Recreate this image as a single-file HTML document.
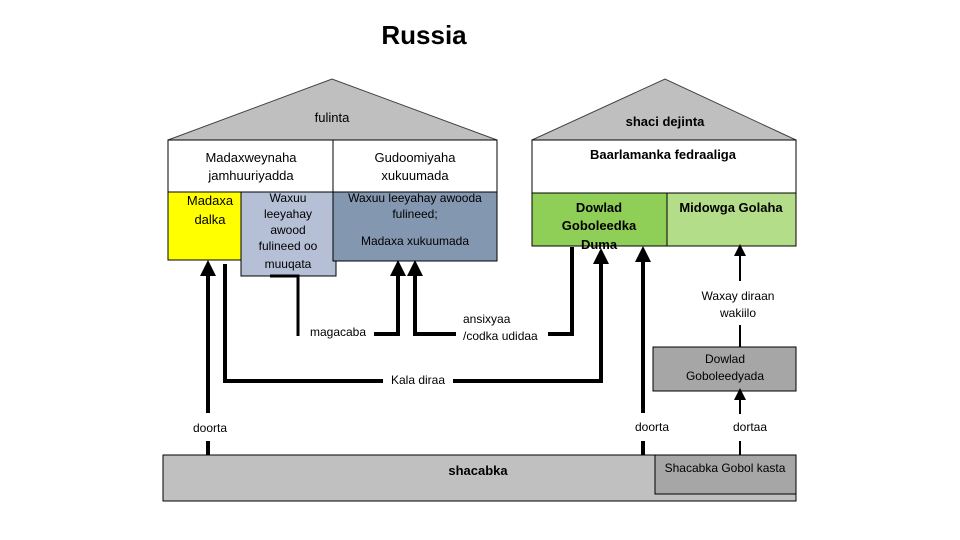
<!DOCTYPE html>
<html><head><meta charset="utf-8"><style>
html,body{margin:0;padding:0;background:#fff;}
svg{display:block;}
text{font-family:"Liberation Sans",sans-serif;fill:#000;}
</style></head><body>
<svg width="960" height="540" viewBox="0 0 960 540" xmlns="http://www.w3.org/2000/svg">
<defs>
<marker id="ah" markerWidth="4" markerHeight="4" refX="2" refY="2" orient="auto" markerUnits="strokeWidth">
<path d="M0,0 L4,2 L0,4 z" fill="#000"/></marker>
<marker id="ahs" markerWidth="6" markerHeight="6" refX="3" refY="3" orient="auto" markerUnits="strokeWidth">
<path d="M0,0 L6,3 L0,6 z" fill="#000"/></marker>
</defs>
<text x="424" y="44" font-size="26" font-weight="bold" text-anchor="middle">Russia</text>

<!-- left roof -->
<polygon points="168,140 332,79 497,140" fill="#bfbfbf" stroke="#404040" stroke-width="1"/>
<text x="332" y="122" font-size="13" text-anchor="middle">fulinta</text>
<!-- right roof -->
<polygon points="532,140 665,79 796,140" fill="#bfbfbf" stroke="#404040" stroke-width="1"/>
<text x="665" y="126" font-size="13" font-weight="bold" text-anchor="middle">shaci dejinta</text>

<!-- left box -->
<rect x="168" y="140" width="329" height="52" fill="#fff" stroke="#000"/>
<line x1="333" y1="140" x2="333" y2="192" stroke="#000"/>
<text x="251" y="162" font-size="13" text-anchor="middle">Madaxweynaha</text>
<text x="251" y="180" font-size="13" text-anchor="middle">jamhuuriyadda</text>
<text x="415" y="162" font-size="13" text-anchor="middle">Gudoomiyaha</text>
<text x="415" y="180" font-size="13" text-anchor="middle">xukuumada</text>
<rect x="168" y="192" width="73" height="68" fill="#ffff00" stroke="#000"/>
<text x="210" y="205" font-size="13" text-anchor="middle">Madaxa</text>
<text x="210" y="224" font-size="13" text-anchor="middle">dalka</text>
<rect x="241" y="192" width="95" height="84" fill="#b5c0d6" stroke="#000"/>
<g font-size="12" text-anchor="middle">
<text x="288" y="202">Waxuu</text>
<text x="288" y="218">leeyahay</text>
<text x="288" y="234">awood</text>
<text x="288" y="250">fulineed oo</text>
<text x="288" y="268">muuqata</text>
</g>
<rect x="333" y="192" width="164" height="69" fill="#8497b0" stroke="#000"/>
<text x="415" y="202" font-size="12" text-anchor="middle">Waxuu leeyahay awooda</text>
<text x="415" y="218" font-size="12" text-anchor="middle">fulineed;</text>
<text x="415" y="245" font-size="12" text-anchor="middle">Madaxa xukuumada</text>

<!-- right box -->
<rect x="532" y="140" width="264" height="53" fill="#fff" stroke="#000"/>
<text x="663" y="159" font-size="13" font-weight="bold" text-anchor="middle">Baarlamanka fedraaliga</text>
<rect x="532" y="193" width="135" height="53" fill="#8fcf58" stroke="#000"/>
<text x="599" y="212" font-size="13" font-weight="bold" text-anchor="middle">Dowlad</text>
<text x="599" y="230" font-size="13" font-weight="bold" text-anchor="middle">Goboleedka</text>
<text x="599" y="249" font-size="13" font-weight="bold" text-anchor="middle">Duma</text>
<rect x="667" y="193" width="129" height="53" fill="#b3dd88" stroke="#000"/>
<text x="731" y="212" font-size="13" font-weight="bold" text-anchor="middle">Midowga Golaha</text>

<!-- bottom -->
<rect x="163" y="455" width="633" height="46" fill="#c0c0c0" stroke="#000"/>
<rect x="655" y="455" width="141" height="39" fill="#a6a6a6" stroke="#000"/>
<text x="478" y="475" font-size="13" font-weight="bold" text-anchor="middle">shacabka</text>
<text x="725" y="472" font-size="12" text-anchor="middle">Shacabka Gobol kasta</text>

<rect x="653" y="347" width="143" height="44" fill="#a6a6a6" stroke="#000"/>
<text x="725" y="363" font-size="12" text-anchor="middle">Dowlad</text>
<text x="725" y="380" font-size="12" text-anchor="middle">Goboleedyada</text>

<g stroke="#000" stroke-width="4" fill="none">
<line x1="208" y1="455" x2="208" y2="441"/>
<line x1="208" y1="413" x2="208" y2="268" marker-end="url(#ah)"/>
<polyline points="225,264 225,381 383,381"/>
<polyline points="453,381 601,381 601,256" marker-end="url(#ah)"/>
<polyline points="270,276 298,276 298,336" stroke-width="3"/>
<polyline points="374,334 398,334 398,268" marker-end="url(#ah)"/>
<polyline points="456,334 415,334 415,268" marker-end="url(#ah)"/>
<polyline points="548,334 572,334 572,247"/>
<line x1="643" y1="455" x2="643" y2="441"/>
<line x1="643" y1="413" x2="643" y2="254" marker-end="url(#ah)"/>
</g>
<g stroke="#000" stroke-width="2" fill="none">
<line x1="740" y1="281" x2="740" y2="250" marker-end="url(#ahs)"/>
<line x1="740" y1="347" x2="740" y2="325"/>
<line x1="740" y1="414" x2="740" y2="394" marker-end="url(#ahs)"/>
<line x1="740" y1="455" x2="740" y2="441"/>
</g>

<g font-size="12">
<text x="338" y="336" text-anchor="middle">magacaba</text>
<text x="463" y="323">ansixyaa</text>
<text x="463" y="340">/codka udidaa</text>
<text x="418" y="384" text-anchor="middle">Kala diraa</text>
<text x="210" y="432" text-anchor="middle">doorta</text>
<text x="652" y="431" text-anchor="middle">doorta</text>
<text x="750" y="431" text-anchor="middle">dortaa</text>
<text x="738" y="300" text-anchor="middle">Waxay diraan</text>
<text x="738" y="317" text-anchor="middle">wakiilo</text>
</g>
</svg>
</body></html>
